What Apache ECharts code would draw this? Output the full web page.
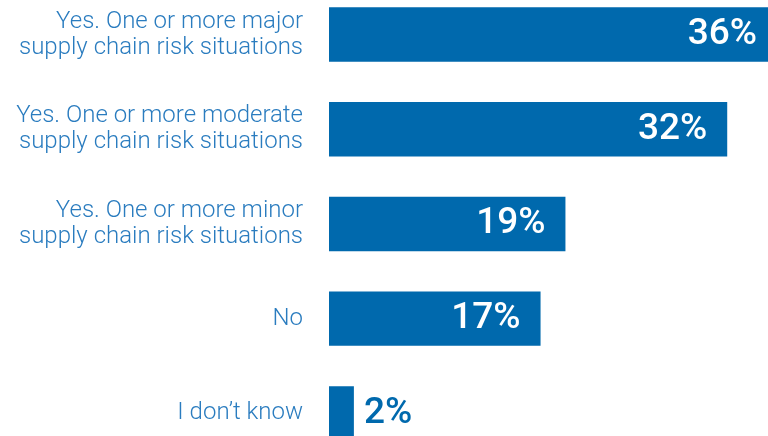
<!DOCTYPE html>
<html>
<head>
<meta charset="utf-8">
<script src="https://cdn.jsdelivr.net/npm/echarts@6/dist/echarts.min.js"></script>
<style>
html,body{margin:0;padding:0;background:#fff;}
#chart{width:768px;height:436px;}
</style>
</head>
<body>
<div id="chart"></div>
<script>
var categories = [
  "Yes. One or more major\nsupply chain risk situations",
  "Yes. One or more moderate\nsupply chain risk situations",
  "Yes. One or more minor\nsupply chain risk situations",
  "No",
  "I don\u2019t know"
];
var values = [36, 32, 19, 17, 2];
var outsideThreshold = 5;

var barColor = '#0069ad';
var chart = echarts.init(document.getElementById('chart'));
chart.setOption({
  animation: false,
  grid: { left: 329, top: -12.8, width: 448, height: 473.5, containLabel: false, outerBoundsMode: 'none' },
  xAxis: { type: 'value', min: 0, max: 36, show: false },
  yAxis: {
    type: 'category',
    data: categories,
    inverse: true,
    axisLine: { show: false },
    axisTick: { show: false },
    splitLine: { show: false },
    axisLabel: {
      margin: 26,
      align: 'right',
      color: '#2a7cbf',
      fontFamily: 'Roboto',
      fontWeight: 300,
      fontSize: 24,
      lineHeight: 26
    }
  },
  series: [{
    type: 'bar',
    barWidth: 54.4,
    clip: false,
    data: values.map(function (v) {
      var outside = v < outsideThreshold;
      return {
        value: v,
        label: outside ? {
          position: 'right', distance: 10, color: barColor
        } : {
          position: 'insideRight', distance: 20, color: '#ffffff'
        }
      };
    }),
    itemStyle: { color: barColor },
    label: {
      show: true,
      formatter: '{c}%',
      fontFamily: 'Roboto',
      fontWeight: 500,
      fontSize: 37
    }
  }]
});
</script>
</body>
</html>
